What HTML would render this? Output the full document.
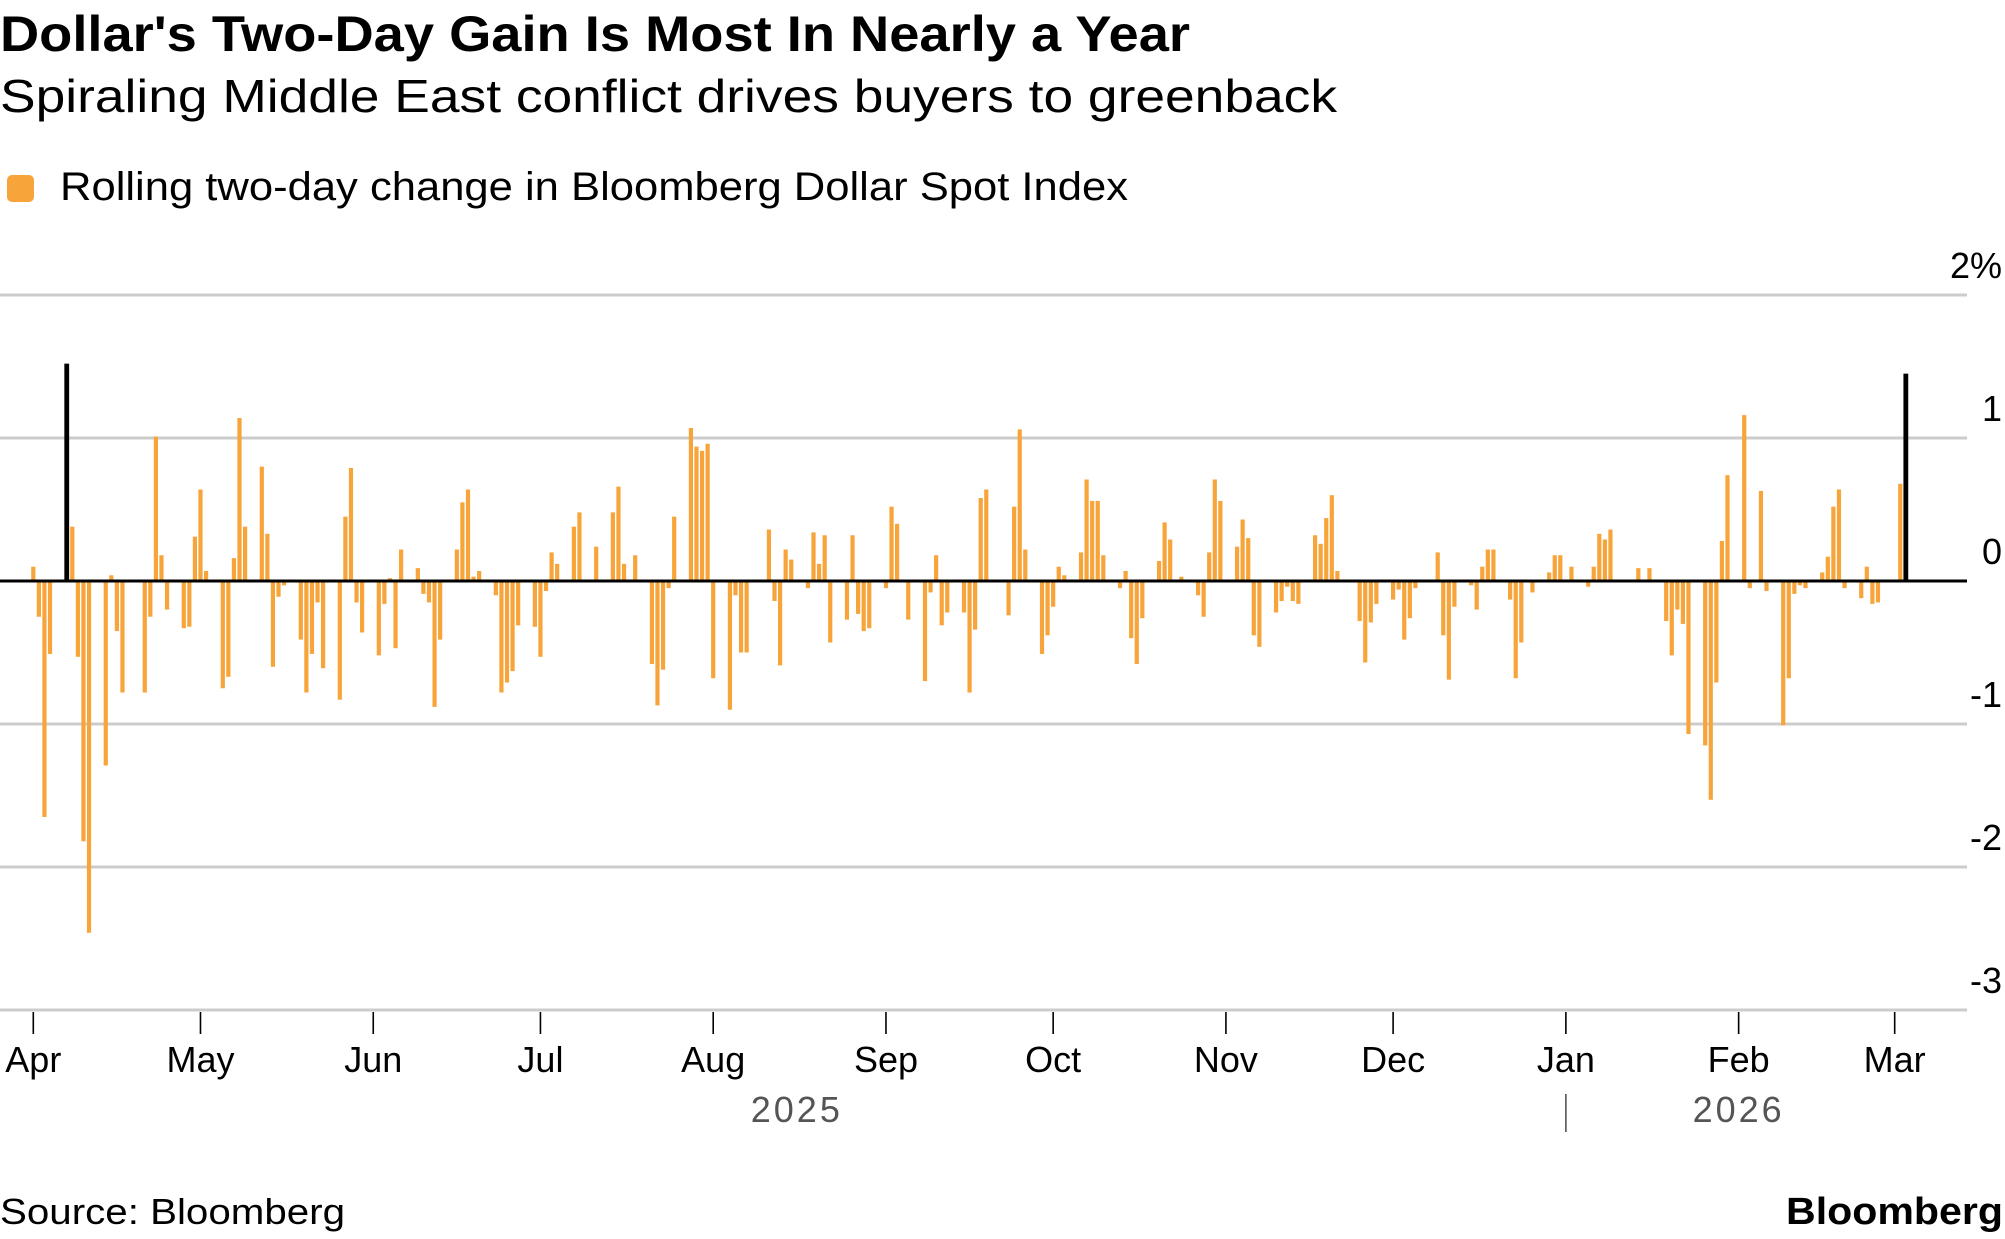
<!DOCTYPE html>
<html><head><meta charset="utf-8"><style>
html,body{margin:0;padding:0;background:#fff;}
svg{display:block;font-family:"Liberation Sans",Arial,sans-serif;}
</style></head><body>
<svg id="chart" width="2005" height="1239" viewBox="0 0 2005 1239" xmlns="http://www.w3.org/2000/svg">
<text x="0" y="51" font-size="50" font-weight="bold" fill="#000" textLength="1190" lengthAdjust="spacingAndGlyphs">Dollar's Two-Day Gain Is Most In Nearly a Year</text>
<text x="0" y="112" font-size="46" fill="#000" textLength="1337" lengthAdjust="spacingAndGlyphs">Spiraling Middle East conflict drives buyers to greenback</text>
<rect x="7" y="175" width="27" height="27" rx="5" fill="#F7A43A"/>
<text x="60" y="200" font-size="40" fill="#000" textLength="1068" lengthAdjust="spacingAndGlyphs">Rolling two-day change in Bloomberg Dollar Spot Index</text>
<g id="grid"></g><g id="bars"></g><g id="axes"></g>
<text x="0" y="1224" font-size="36" fill="#000" textLength="345" lengthAdjust="spacingAndGlyphs">Source: Bloomberg</text>
<text x="2003" y="1224" font-size="38" font-weight="bold" fill="#000" text-anchor="end" textLength="217" lengthAdjust="spacingAndGlyphs">Bloomberg</text>
</svg>
<script>
const startDate = "2025-04-01";
const values = [
 0.10,-0.25,-1.65,-0.51,1.52,0.38,-0.53,-1.82,-2.46,-1.29,0.04,-0.35,-0.78,0,-0.78,-0.25,1.01,0.18,-0.20,-0.33,-0.32,0.31,
 0.64,0.07,-0.75,-0.67,0.16,1.14,0.38,0.80,0.33,-0.60,-0.11,-0.03,-0.41,-0.78,-0.51,-0.15,-0.61,-0.83,0.45,0.79,-0.15,-0.36,
 -0.52,-0.16,0.02,-0.47,0.22,0.09,-0.09,-0.15,-0.88,-0.41,0.22,0.55,0.64,0.03,0.07,-0.10,-0.78,-0.71,-0.63,-0.31,-0.32,
 -0.53,-0.07,0.20,0.12,0.38,0.48,0,0,0.24,0.48,0.66,0.12,0,0.18,-0.58,-0.87,-0.62,-0.05,0.45,1.07,0.94,0.91,0.96,
 -0.68,-0.90,-0.10,-0.50,-0.50,0,0.36,-0.14,-0.59,0.22,0.15,-0.05,0.34,0.12,0.32,-0.43,-0.27,0.32,-0.23,-0.35,-0.33,
 -0.05,0.52,0.40,0,-0.27,-0.70,-0.08,0.18,-0.31,-0.22,-0.22,-0.78,-0.34,0.58,0.64,0,-0.24,0.52,1.06,0.22,-0.51,-0.38,
 -0.18,0.10,0.04,0.20,0.71,0.56,0.56,0.18,-0.05,0.07,-0.40,-0.58,-0.26,0.14,0.41,0.29,0,0.03,-0.10,-0.25,0.20,0.71,0.56,
 0.24,0.43,0.30,-0.38,-0.46,-0.22,-0.14,-0.04,-0.14,-0.16,0.32,0.26,0.44,0.60,0.07,0,-0.28,-0.57,-0.29,-0.16,
 -0.13,-0.06,-0.41,-0.26,-0.05,0,0.20,-0.38,-0.69,-0.18,-0.03,-0.20,0.10,0.22,0.22,-0.13,-0.68,-0.43,0,-0.08,0.06,0.18,0.18,
 0,0.10,-0.04,0.10,0.33,0.29,0.36,0.01,0,0.09,0,0.09,-0.28,-0.52,-0.20,-0.30,-1.07,-1.15,-1.53,-0.71,0.28,0.74,
 1.16,-0.05,-0.01,0.63,-0.07,-1.01,-0.68,-0.09,-0.03,-0.05,0.06,0.17,0.52,0.64,-0.05,-0.12,0.10,-0.16,-0.15,0,
 0.68,1.45
];
const highlightDates = ["2025-04-07","2026-03-03"];
const yTicks = [2,1,0,-1,-2,-3];
const yTickLabels = ["2%","1","0","-1","-2","-3"];
const monthTicks = ["2025-04-01","2025-05-01","2025-06-01","2025-07-01","2025-08-01","2025-09-01","2025-10-01","2025-11-01","2025-12-01","2026-01-01","2026-02-01","2026-03-01"];
const monthLabels = ["Apr","May","Jun","Jul","Aug","Sep","Oct","Nov","Dec","Jan","Feb","Mar"];
const yearLabels = ["2025","2026"];
const yearCenters = ["2025-08-16","2026-02-01"];

const NS="http://www.w3.org/2000/svg";
const DAY=86400000;
const t0=Date.parse(startDate+"T00:00:00Z");
function xScale(d){return 33.3+(Date.parse(d+"T00:00:00Z")-t0)/DAY*5.573;}
function yScale(v){return 581-v*143;}
function mk(tag,attrs,parent){const e=document.createElementNS(NS,tag);for(const k in attrs)e.setAttribute(k,attrs[k]);parent.appendChild(e);return e;}

const dates=[];
let t=t0;
while(dates.length<values.length){const dd=new Date(t);const wd=dd.getUTCDay();if(wd!==0&&wd!==6)dates.push(dd.toISOString().slice(0,10));t+=DAY;}

const grid=document.getElementById('grid');
yTicks.forEach((v,i)=>{
  if(v!==0){const l=mk('line',{x1:0,x2:1967,y1:yScale(v),y2:yScale(v),stroke:'#cccccc','stroke-width':3},grid);
  
  }
  const tx=mk('text',{x:2002,y:yScale(v)-17,'font-size':36,'text-anchor':'end',fill:'#000'},grid);
  tx.textContent=yTickLabels[i];
  
  
});

const bars=document.getElementById('bars');
values.forEach((v,i)=>{
  const hl=highlightDates.indexOf(dates[i])>=0;
  const x=xScale(dates[i]);
  const y0=yScale(0),y1=yScale(v);
  const r=mk('rect',{x:x-(hl?2.4:2.1),y:Math.min(y0,y1),width:hl?4.8:4.2,height:Math.max(Math.abs(y1-y0),0.01),fill:hl?'#000':'#F7A43A'},bars);
  
  
});

const axes=document.getElementById('axes');
const zl=mk('line',{x1:0,x2:1967,y1:yScale(0),y2:yScale(0),stroke:'#000','stroke-width':3},axes);


const bl=mk('line',{x1:0,x2:1967,y1:yScale(-3),y2:yScale(-3),stroke:'#cccccc','stroke-width':3},axes);


monthTicks.forEach((d,i)=>{
  const x=xScale(d);
  const tk=mk('line',{x1:x,x2:x,y1:1012,y2:1034,stroke:'#000','stroke-width':1.6},axes);
  
  
  const tx=mk('text',{x:x,y:1072,'font-size':36,'text-anchor':'middle',fill:'#000'},axes);
  tx.textContent=monthLabels[i];
  
  
});
yearLabels.forEach((y,i)=>{
  const tx=mk('text',{x:xScale(yearCenters[i]),y:1122,'font-size':36,'text-anchor':'middle',fill:'#555','letter-spacing':3},axes);
  tx.textContent=y;
  
  
});
const sep=mk('line',{x1:xScale("2026-01-01"),x2:xScale("2026-01-01"),y1:1094,y2:1132,stroke:'#555','stroke-width':1.6},axes);


</script>
</body></html>
